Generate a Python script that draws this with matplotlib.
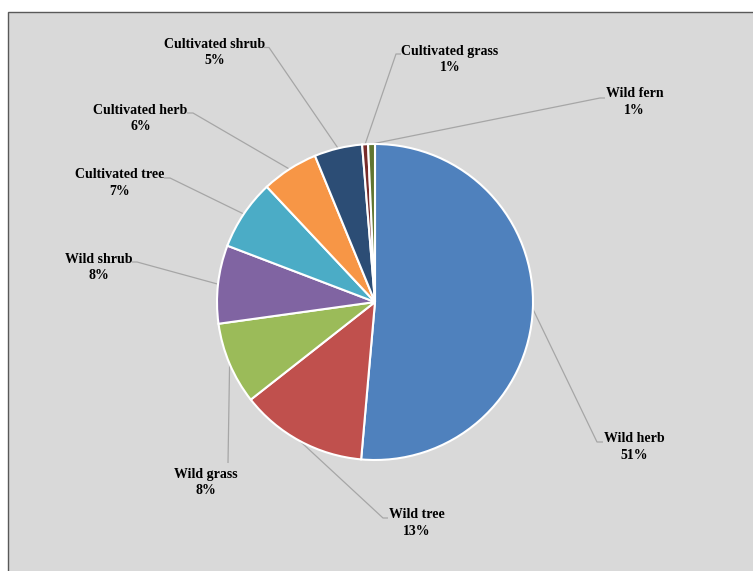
import matplotlib
matplotlib.use('Agg')
import matplotlib.pyplot as plt
import numpy as np
from matplotlib.patches import Rectangle

categories = ["Wild herb", "Wild tree", "Wild grass", "Wild shrub", "Cultivated tree",
              "Cultivated herb", "Cultivated shrub", "Cultivated grass", "Wild fern"]
values = [51.4, 13.0, 8.4, 8.0, 7.2, 5.8, 4.9, 0.6, 0.7]
pct_labels = ["51%", "13%", "8%", "8%", "7%", "6%", "5%", "1%", "1%"]
colors = ["#4F81BD", "#C0504D", "#9BBB59", "#8064A2", "#4BACC6",
          "#F79646", "#2C4D75", "#772C2A", "#5F7530"]

W, H = 753, 571
fig = plt.figure(figsize=(W / 100, H / 100), dpi=100)
fig.patch.set_facecolor('white')
ax = fig.add_axes([0, 0, 1, 1])

def py(y):
    return H - y

# background panel
ax.add_patch(Rectangle((8, -20), W + 20, H - 12 + 20, facecolor='#d9d9d9',
                       edgecolor='#595959', linewidth=1.0, zorder=0))

cx, cy, R = 375, 302, 158
wedges, _ = ax.pie(values, colors=colors, startangle=90, counterclock=False,
                   center=(cx, py(cy)), radius=R,
                   wedgeprops=dict(edgecolor='white', linewidth=1.5))
for w in wedges:
    w.set_zorder(2)

# label layout (pixel coords, y from top): text centre, text-side point, elbow point
layout = [
    ((634.5, 447), (603, 442), (597, 442)),
    ((417, 523), (388, 518), (383, 518)),
    ((205.5, 482.5), (228, 463), (228, 463)),
    ((99, 267.5), (132, 262), (137, 262)),
    ((120, 183), (164, 178), (170, 178)),
    ((140.5, 118.5), (187, 113), (193, 113)),
    ((214.5, 52.5), (264, 47.5), (269, 47.5)),
    ((450, 59.5), (401, 54), (396, 54)),
    ((634.5, 102), (605, 98), (600, 98)),
]

for w, name, pct, (tc, tp, ep) in zip(wedges, categories, pct_labels, layout):
    mid = np.deg2rad((w.theta1 + w.theta2) / 2)
    sx = w.center[0] + R * np.cos(mid)
    sy = w.center[1] + R * np.sin(mid)
    ax.plot([sx, ep[0], tp[0]], [sy, py(ep[1]), py(tp[1])], color='#a6a6a6',
            lw=0.9, zorder=1, solid_capstyle='butt')
    ax.text(tc[0], py(tc[1]), f"{name}\n{pct}", ha='center', va='center',
            fontsize=10, fontweight='bold', family='Liberation Serif',
            linespacing=1.35, color='black', zorder=3)

ax.set_xlim(0, W)
ax.set_ylim(0, H)
ax.set_aspect('auto')
ax.axis('off')
fig.savefig('out.png', dpi=100, facecolor='white')
